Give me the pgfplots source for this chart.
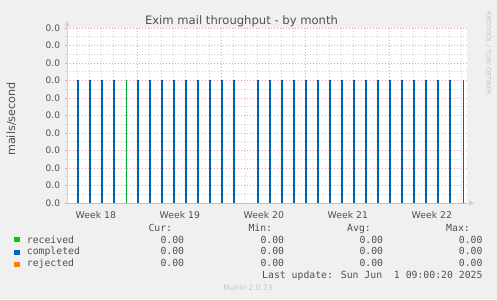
\documentclass[border=0pt]{standalone}
\usepackage{pgfplots}
\pgfplotsset{compat=1.18}
\usepackage{fontspec}
\setmainfont{DejaVu Sans}
\newfontfamily\mono{DejaVu Sans Mono}
\usetikzlibrary{arrows.meta}
\definecolor{bg}{HTML}{F0F0F0}
\definecolor{txt}{HTML}{505050}
\definecolor{mgrid}{HTML}{F0A0A0}
\definecolor{gridc}{HTML}{CFCFCF}
\definecolor{axisc}{HTML}{C8D0F4}
\definecolor{recc}{HTML}{00CC00}
\definecolor{compc}{HTML}{0066B3}
\definecolor{rejc}{HTML}{FF8000}
\definecolor{faint}{HTML}{C4C4C4}
\begin{document}
\begin{tikzpicture}[x=1bp,y=1bp]
\fill[bg] (0,0) rectangle (497,299);
\useasboundingbox (0,0) rectangle (497,299);
\begin{axis}[
  at={(67bp,96bp)}, anchor=south west,
  scale only axis, width=400bp, height=175bp,
  xmin=0, xmax=33.3333, ymin=0, ymax=1,
  clip=false,
  axis background/.style={fill=white},
  axis x line*=bottom, axis y line*=left,
  axis line style={draw=none},
  tick align=outside,
  xtick={2.4,9.4,16.4,23.4,30.4},
  xticklabels={Week 18,Week 19,Week 20,Week 21,Week 22},
  minor xtick={0.8333,1.8333,...,32.9},
  extra x ticks={5.8333,12.8333,19.8333,26.8333},
  extra x tick labels={},
  extra x tick style={xmajorgrids=true, major tick length=3bp, major tick style={draw=mgrid, line width=0.8bp}},
  major x tick style={draw=none},
  minor x tick style={draw=none},
  ytick={0,0.1,...,1.01},
  yticklabel={0.0},
  minor y tick num=1,
  major y tick style={draw=mgrid, line width=0.8bp},
  minor y tick style={draw=gridc, line width=0.8bp},
  major tick length=2.5bp, minor tick length=2bp,
  ymajorgrids=true, yminorgrids=true, xminorgrids=true,
  major grid style={draw=mgrid, line width=0.8bp, dash pattern=on 1bp off 2bp},
  minor grid style={draw=gridc, line width=0.8bp, dash pattern=on 1bp off 2bp},
  x tick label style={font=\fontsize{9.3bp}{10bp}\selectfont, text=txt, yshift=-2bp},
  y tick label style={font=\fontsize{9bp}{10bp}\selectfont, text=txt, xshift=-1bp},
]
\addplot[ycomb, draw=compc, line width=1.6bp, mark=none] coordinates {
(0.917,0.7) (1.917,0.7) (2.917,0.7) (3.917,0.7)
(5.917,0.7) (6.917,0.7) (7.917,0.7) (8.917,0.7) (9.917,0.7) (10.917,0.7) (11.917,0.7) (12.917,0.7) (13.917,0.7)
(15.917,0.7) (16.917,0.7) (17.917,0.7) (18.917,0.7) (19.917,0.7) (20.917,0.7) (21.917,0.7) (22.917,0.7)
(23.917,0.7) (24.917,0.7) (25.917,0.7) (26.917,0.7) (27.917,0.7) (28.917,0.7) (29.917,0.7) (30.917,0.7)
(31.917,0.7) (33.03,0.7)
};
\addplot[ycomb, draw=recc!70!compc, line width=1.6bp, mark=none] coordinates {(4.97,0.7)};
\addplot[draw=rejc!60!white, line width=1bp, mark=none] coordinates {(0,0) (33.3333,0)};
\end{axis}
\draw[axisc, line width=1bp, -{Triangle[width=5bp,length=5bp]}] (67,96) -- (67,278);
\draw[axisc, line width=1bp, -{Triangle[width=5bp,length=5bp]}] (468,96) -- (474,96);
\node[anchor=base, text=txt, inner sep=0, font=\fontsize{11.6bp}{13bp}\selectfont] at (241.5,275) {Exim mail throughput - by month};
\node[anchor=base, rotate=90, text=txt, inner sep=0, font=\fontsize{11.2bp}{13bp}\selectfont] at (15,180) {mails/second};
\node[rotate=-90, text=faint, inner sep=0, font=\fontsize{6.5bp}{7bp}\selectfont] at (488.5,245.5) {RRDTOOL / TOBI OETIKER};
\begin{scope}[every node/.style={inner sep=0, text=txt, font=\mono\fontsize{9.8bp}{11bp}\selectfont}]
\node[anchor=base east] at (172.3,68) {Cur:};
\node[anchor=base east] at (272.3,68) {Min:};
\node[anchor=base east] at (371,68) {Avg:};
\node[anchor=base east] at (470,68) {Max:};
\fill[recc] (14,56.7) rectangle (20,61.7);
\fill[compc] (14,44.5) rectangle (20,49.5);
\fill[rejc] (14,32.3) rectangle (20,37.3);
\node[anchor=base west] at (26.7,56) {received};
\node[anchor=base west] at (26.7,44.3) {completed};
\node[anchor=base west] at (26.7,32.5) {rejected};
\foreach \yy in {56,44.3,32.5} {
  \node[anchor=base east] at (184.3,\yy) {0.00};
  \node[anchor=base east] at (284.3,\yy) {0.00};
  \node[anchor=base east] at (383.3,\yy) {0.00};
  \node[anchor=base east] at (482.7,\yy) {0.00};
}
\node[anchor=base east] at (482.7,21) {Last update: Sun Jun\ \ 1 09:00:20 2025};
\end{scope}
\node[anchor=base, inner sep=0, text=faint, font=\fontsize{7.5bp}{9bp}\selectfont] at (248,8.3) {Munin 2.0.73};
\end{tikzpicture}
\end{document}
